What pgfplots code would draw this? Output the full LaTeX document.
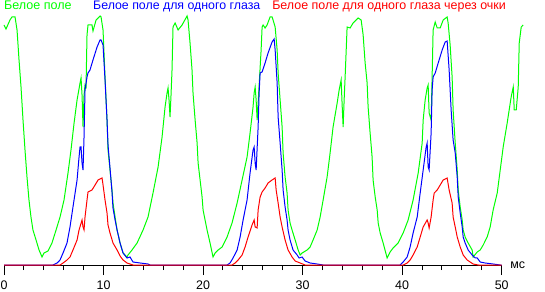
\documentclass[border=0pt]{standalone}
\usepackage{fontspec}
\setmainfont{Liberation Sans}
\usepackage{pgfplots}
\pgfplotsset{compat=1.18}
\definecolor{cgreen}{RGB}{0,255,0}
\definecolor{cblue}{RGB}{0,0,255}
\definecolor{cred}{RGB}{255,0,0}
\begin{document}
\begin{tikzpicture}
\path[use as bounding box] (-4bp,-27bp) rectangle (541bp,265bp);
\begin{axis}[
  at={(0,0)}, anchor=south west,
  scale only axis, width=497.7bp, height=265bp,
  xmin=0, xmax=50, ymin=0, ymax=265,
  clip=false,
  axis x line=bottom, axis y line=none,
  x axis line style={-, line width=1bp, black},
  xtick={0,10,20,30,40,50},
  minor x tick num=4,
  tick align=outside,
  major tick length=10bp, minor tick length=5bp,
  every tick/.style={black, line width=1bp},
  /pgf/number format/assume math mode=true,
  xticklabel style={font=\fontsize{12.5}{14}\selectfont, inner sep=0pt, yshift=-6bp},
]
\addplot[cgreen, line width=1bp] coordinates {
(0,240) (0.20,236) (0.60,245) (0.80,248) (1.11,248) (1.31,235) (1.51,205) (1.71,178) (1.91,145) (2.11,115) (2.31,88) (2.51,65) (2.71,48) (2.91,35) (3.22,25) (3.52,15) (3.82,8) (4.02,12) (4.42,14) (4.82,22) (5.23,35) (5.63,48) (6.03,65) (6.43,92) (6.73,115) (7.04,142) (7.34,165) (7.64,182) (7.74,187) (7.84,170) (7.94,138) (8.04,170) (8.14,180) (8.24,178) (8.34,230) (8.44,240) (8.84,240) (8.94,234) (9.25,245) (9.65,249) (9.75,248) (9.95,235) (10.15,188) (10.35,145) (10.45,115) (10.65,95) (10.85,75) (10.95,62) (11.16,48) (11.36,35) (11.66,22) (11.96,12) (12.36,8) (12.46,10) (12.86,15) (13.37,22) (13.97,35) (14.47,48) (14.97,72) (15.48,98) (15.88,128) (16.18,158) (16.38,172) (16.48,177) (16.58,165) (16.68,148) (16.78,170) (16.88,195) (16.98,238) (17.19,242) (17.49,235) (17.89,240) (18.39,249) (18.49,245) (18.69,222) (18.89,195) (18.99,172) (19.20,145) (19.40,122) (19.50,102) (19.70,85) (19.90,68) (20.00,55) (20.20,45) (20.40,35) (20.70,22) (21.00,8) (21.21,12) (21.51,15) (21.91,18) (22.41,28) (22.91,42) (23.42,62) (23.92,85) (24.42,108) (24.72,132) (25.02,158) (25.13,172) (25.23,178) (25.33,165) (25.43,145) (25.53,162) (25.83,215) (25.93,238) (26.03,240) (26.23,237) (26.43,240) (26.73,248) (26.93,248) (27.03,245) (27.24,238) (27.44,215) (27.54,192) (27.74,165) (27.94,138) (28.04,112) (28.24,88) (28.44,72) (28.54,55) (28.74,42) (28.94,35) (29.25,25) (29.55,15) (29.75,10) (29.95,12) (30.45,15) (30.75,18) (31.05,25) (31.46,35) (31.76,48) (32.06,65) (32.46,88) (32.76,112) (33.06,138) (33.47,162) (33.67,175) (33.87,185) (33.97,160) (34.07,138) (34.17,165) (34.27,188) (34.47,238) (34.77,237) (35.07,242) (35.58,247) (35.88,245) (36.08,230) (36.28,202) (36.48,182) (36.58,158) (36.78,132) (36.98,108) (37.08,85) (37.29,68) (37.49,55) (37.59,42) (37.79,32) (38.09,22) (38.49,7) (38.79,13) (39.09,17) (39.60,22) (40.10,32) (40.60,45) (41.10,65) (41.61,92) (42.01,122) (42.11,145) (42.31,165) (42.51,177) (42.61,180) (42.71,152) (42.91,145) (43.01,188) (43.11,235) (43.32,243) (43.52,237) (43.82,237) (44.12,245) (44.52,248) (44.62,242) (44.82,220) (45.02,188) (45.12,155) (45.33,122) (45.53,95) (45.63,75) (45.83,58) (46.03,45) (46.13,35) (46.33,28) (46.63,22) (47.03,15) (47.13,8) (47.54,13) (47.84,15) (48.14,20) (48.54,28) (48.84,38) (49.14,55) (49.55,72) (49.85,95) (50.15,118) (50.55,142) (50.75,155) (50.95,168) (51.16,178) (51.26,155) (51.46,155) (51.66,178) (51.76,222) (51.96,238) (52.16,240)
};
\addplot[cblue, line width=1bp] coordinates {
(0,0) (4.92,0) (5.33,2) (5.63,5) (5.93,12) (6.33,22) (6.63,38) (6.93,58) (7.34,85) (7.54,108) (7.64,118) (7.74,118) (7.84,102) (7.94,95) (8.04,128) (8.14,175) (8.34,188) (8.44,192) (8.64,195) (8.94,205) (9.35,218) (9.65,225) (9.75,225) (9.95,220) (10.15,185) (10.35,145) (10.45,120) (10.65,97) (10.85,73) (10.95,57) (11.16,45) (11.36,35) (11.66,22) (11.96,12) (12.36,7) (12.66,8) (12.96,3) (13.67,2) (14.47,1) (14.67,0) (22.41,0) (22.71,2) (23.01,7) (23.42,15) (23.72,28) (24.02,45) (24.42,65) (24.72,92) (25.02,115) (25.13,118) (25.23,102) (25.33,95) (25.53,138) (25.63,172) (25.73,192) (25.93,193) (26.23,202) (26.53,212) (26.93,223) (27.14,226) (27.24,215) (27.44,182) (27.54,148) (27.74,122) (27.94,95) (28.04,75) (28.24,58) (28.44,45) (28.54,35) (28.74,25) (29.04,15) (29.45,10) (29.65,7) (29.95,8) (30.25,4) (30.75,2) (31.46,1) (32.06,0) (39.80,0) (40.10,3) (40.50,8) (40.80,18) (41.10,32) (41.51,48) (41.81,72) (42.11,95) (42.41,118) (42.51,122) (42.61,98) (42.71,95) (42.91,132) (43.01,175) (43.11,188) (43.32,192) (43.62,202) (44.02,215) (44.32,223) (44.52,224) (44.72,195) (44.92,155) (45.12,125) (45.33,112) (45.53,88) (45.63,68) (45.83,52) (46.03,38) (46.13,28) (46.33,22) (46.63,15) (47.03,10) (47.34,7) (47.54,7) (47.84,3) (48.34,2) (49.14,1) (49.85,0) (50,0)
};
\addplot[cred, line width=1bp] coordinates {
(0,0) (5.43,0) (5.63,0) (5.93,2) (6.33,5) (6.63,8) (6.93,15) (7.34,25) (7.54,35) (7.84,45) (7.94,38) (8.04,35) (8.14,48) (8.34,65) (8.44,73) (8.84,75) (9.15,80) (9.45,85) (9.85,87) (9.95,80) (10.15,65) (10.35,52) (10.45,40) (10.65,32) (10.95,22) (11.36,15) (11.66,9) (11.96,5) (12.36,2) (12.66,1) (12.96,0) (22.91,0) (23.22,2) (23.52,5) (23.92,10) (24.22,18) (24.52,28) (24.92,40) (25.13,45) (25.23,38) (25.43,37) (25.53,55) (25.73,68) (25.93,73) (26.23,77) (26.53,82) (26.93,85) (27.24,87) (27.34,75) (27.54,62) (27.74,48) (27.94,38) (28.24,25) (28.54,15) (28.94,8) (29.25,4) (29.75,2) (30.25,0) (40.10,0) (40.50,2) (40.80,5) (41.10,10) (41.51,18) (41.81,28) (42.11,38) (42.51,45) (42.61,42) (42.71,37) (42.91,48) (43.11,65) (43.22,72) (43.52,75) (43.82,80) (44.12,85) (44.52,87) (44.72,75) (45.02,62) (45.12,48) (45.33,38) (45.53,28) (45.83,18) (46.13,10) (46.53,5) (46.83,3) (47.13,1) (47.64,0) (50,0)
};
\node[anchor=base west, inner sep=0pt, text=cgreen, font=\fontsize{12.6}{15}\selectfont] at (axis cs:0,255) {Белое поле};
\node[anchor=base west, inner sep=0pt, text=cblue, font=\fontsize{12.4}{15}\selectfont] at (axis cs:8.94,255) {Белое поле для одного глаза};
\node[anchor=base west, inner sep=0pt, text=cred, font=\fontsize{12.5}{15}\selectfont] at (axis cs:26.93,255) {Белое поле для одного глаза через очки};
\node[anchor=west, inner sep=0pt, font=\fontsize{12.5}{15}\selectfont] at (axis cs:50.85,0) {мс};
\end{axis}
\end{tikzpicture}
\end{document}
